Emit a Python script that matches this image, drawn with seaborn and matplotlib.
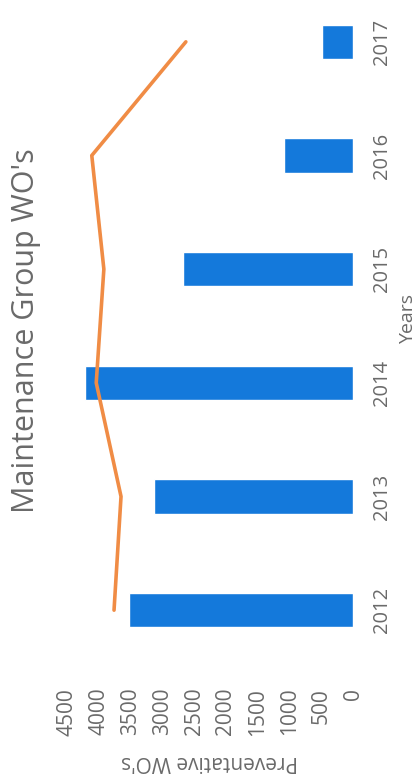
import matplotlib
matplotlib.use("Agg")
import matplotlib.pyplot as plt
import seaborn as sns
import pandas as pd

# Work-order data by year
years = ["2012", "2013", "2014", "2015", "2016", "2017"]
preventative_wos = [3530, 3130, 4220, 2680, 1090, 490]
trend_wos = [3760, 3650, 4040, 3920, 4110, 2630]
value_ticks = [0, 500, 1000, 1500, 2000, 2500, 3000, 3500, 4000, 4500]

title_text = "Maintenance Group WO's"
value_label = "Preventative WO's"
category_label = "Years"

BAR_COLOR = "#1479DB"
LINE_COLOR = "#F08C45"
TEXT_COLOR = "#6A6A6A"

sns.set_theme(style="white")
plt.rcParams["font.family"] = ["Open Sans", "DejaVu Sans"]

df = pd.DataFrame({"year": years, "pm": preventative_wos, "trend": trend_wos})

# Page is turned on its side: categories run bottom-to-top, values right-to-left
order = years[::-1]
df["pos"] = [order.index(y) for y in df["year"]]

W, H = 419, 782
fig = plt.figure(figsize=(W / 100, H / 100), dpi=100)
fig.patch.set_facecolor("white")
ax = fig.add_axes([67 / W, (H - 667) / H, (353 - 67) / W, 682 / H])

sns.barplot(data=df, x="pm", y="year", order=order, orient="h",
            color=BAR_COLOR, saturation=1, width=0.30, ax=ax)
sns.lineplot(data=df, x="trend", y="pos", orient="y", sort=False,
             color=LINE_COLOR, linewidth=2.6, ax=ax)

ax.set_xlim(4500, 0)
ax.set_ylim(5.5, -0.5)
ax.set_xticks(value_ticks)
ax.set_xticklabels([str(v) for v in value_ticks], rotation=90,
                   ha="center", va="top", color=TEXT_COLOR, fontsize=15)
ax.set_yticks(range(len(order)))
ax.set_yticklabels(order, rotation=90, ha="left", va="center",
                   color=TEXT_COLOR, fontsize=14.5)
ax.tick_params(axis="x", length=0, pad=15)
ax.tick_params(axis="y", length=0, pad=13.5, labelleft=False, labelright=True)
ax.set_xlabel("")
ax.set_ylabel("")
for s in ax.spines.values():
    s.set_visible(False)
ax.grid(False)

fig.text(26 / W, 1 - 331 / H, title_text, rotation=90, ha="center", va="center",
         color=TEXT_COLOR, fontsize=22)
fig.text(408 / W, 1 - 319 / H, category_label, rotation=90, ha="center",
         va="center", color=TEXT_COLOR, fontsize=14)
fig.text(209 / W, 1 - 761 / H, value_label, rotation=180, ha="center",
         va="center", color=TEXT_COLOR, fontsize=15)

fig.savefig("out.png", dpi=100, facecolor="white")
